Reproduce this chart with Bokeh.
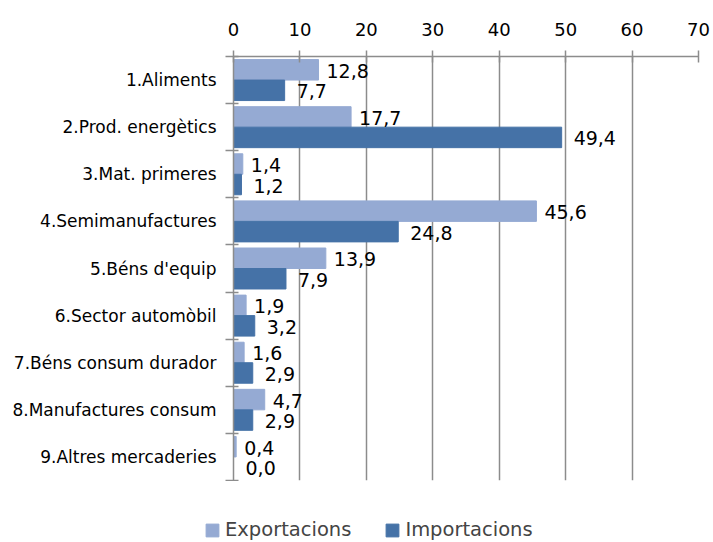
from bokeh.plotting import figure
from bokeh.layouts import column
from bokeh.models import Range1d, FixedTicker, Legend, LegendItem, ColumnDataSource
from bokeh.core.properties import value
from bokeh.embed import file_html
from bokeh.resources import INLINE

categories = ["1.Aliments", "2.Prod. energètics", "3.Mat. primeres", "4.Semimanufactures",
              "5.Béns d'equip", "6.Sector automòbil", "7.Béns consum durador",
              "8.Manufactures consum", "9.Altres mercaderies"]
exportacions = [12.8, 17.7, 1.4, 45.6, 13.9, 1.9, 1.6, 4.7, 0.4]
importacions = [7.7, 49.4, 1.2, 24.8, 7.9, 3.2, 2.9, 2.9, 0.0]
x_ticks = [0, 10, 20, 30, 40, 50, 60, 70]

EXP_COLOR = "#95AAD3"
IMP_COLOR = "#4572A7"
GRID = "#8C8C8C"
FONT = "DejaVu Sans"

n = len(categories)
centers = [n - i - 0.5 for i in range(n)]
bounds = list(range(n + 1))
bar_h = 0.435
half = bar_h / 2

def fmt(v):
    return f"{v:.1f}".replace(".", ",")

src_exp = ColumnDataSource(dict(y=[c + half for c in centers], x=exportacions,
                                label=[fmt(v) for v in exportacions]))
src_imp = ColumnDataSource(dict(y=[c - half for c in centers], x=importacions,
                                label=[fmt(v) for v in importacions]))

p = figure(width=713, height=481, x_range=Range1d(x_ticks[0], x_ticks[-1]), y_range=Range1d(0, n),
           output_backend="svg", toolbar_location=None, x_axis_location="above",
           min_border_left=233, min_border_right=15, min_border_top=56, min_border_bottom=1)
p.frame_align = False
p.outline_line_color = None
p.background_fill_color = "white"
p.border_fill_color = "white"

p.hbar(y="y", right="x", left=0, height=bar_h, source=src_exp,
       fill_color=EXP_COLOR, line_color=EXP_COLOR)
p.hbar(y="y", right="x", left=0, height=bar_h, source=src_imp,
       fill_color=IMP_COLOR, line_color=IMP_COLOR)

p.text(x="x", y="y", text="label", source=src_exp, x_offset=8, y_offset=1,
       text_font=value(FONT), text_font_size=value("19px"), text_baseline="middle",
       text_color="black")
p.text(x="x", y="y", text="label", source=src_imp, x_offset=12, y_offset=1,
       text_font=value(FONT), text_font_size=value("19px"), text_baseline="middle",
       text_color="black")

# x axis (top)
xa = p.xaxis[0]
xa.ticker = FixedTicker(ticks=x_ticks)
xa.axis_line_color = GRID
xa.axis_line_width = 1.5
xa.major_tick_line_color = GRID
xa.major_tick_line_width = 1.5
xa.major_tick_in = 6
xa.major_tick_out = 6
xa.minor_tick_line_color = None
xa.major_label_text_font = FONT
xa.major_label_text_font_size = "18px"
xa.major_label_text_color = "black"
xa.major_label_standoff = 15

p.xgrid.ticker = FixedTicker(ticks=x_ticks)
p.xgrid.grid_line_color = GRID
p.xgrid.grid_line_width = 1.5
p.ygrid.visible = False

# y axis (left)
ya = p.yaxis[0]
ya.ticker = FixedTicker(ticks=centers, minor_ticks=bounds)
ya.major_label_overrides = {c: name for c, name in zip(centers, categories)}
ya.axis_line_color = GRID
ya.axis_line_width = 1.5
ya.major_tick_line_color = None
ya.major_tick_in = 0
ya.major_tick_out = 0
ya.minor_tick_line_color = GRID
ya.minor_tick_line_width = 1.5
ya.minor_tick_in = 5
ya.minor_tick_out = 8
ya.major_label_text_font = FONT
ya.major_label_text_font_size = "17px"
ya.major_label_text_color = "black"
ya.major_label_standoff = 9

# legend strip
lf = figure(width=713, height=61, x_range=Range1d(0, 1), y_range=Range1d(0, 1),
            output_backend="svg", toolbar_location=None, x_axis_type=None, y_axis_type=None,
            min_border_left=0, min_border_right=0, min_border_top=0, min_border_bottom=0)
lf.frame_align = False
lf.outline_line_color = None
lf.grid.visible = False
lf.border_fill_color = "white"
l_exp = lf.hbar(y="y", right="x", left=0, height=bar_h, source=src_exp,
                fill_color=EXP_COLOR, line_color=EXP_COLOR, visible=False)
l_imp = lf.hbar(y="y", right="x", left=0, height=bar_h, source=src_imp,
                fill_color=IMP_COLOR, line_color=IMP_COLOR, visible=False)
legend = Legend(items=[LegendItem(label="Exportacions", renderers=[l_exp]),
                       LegendItem(label="Importacions", renderers=[l_imp])],
                orientation="horizontal", location=(204, 1),
                glyph_width=16, glyph_height=16, label_standoff=5, spacing=33,
                padding=0, margin=0, border_line_color=None, background_fill_alpha=0,
                label_text_font=FONT, label_text_font_size="19.5px",
                label_text_baseline="middle")
lf.add_layout(legend, "center")

layout = column(p, lf, spacing=0)
open("out.html", "w").write(file_html(layout, INLINE))
